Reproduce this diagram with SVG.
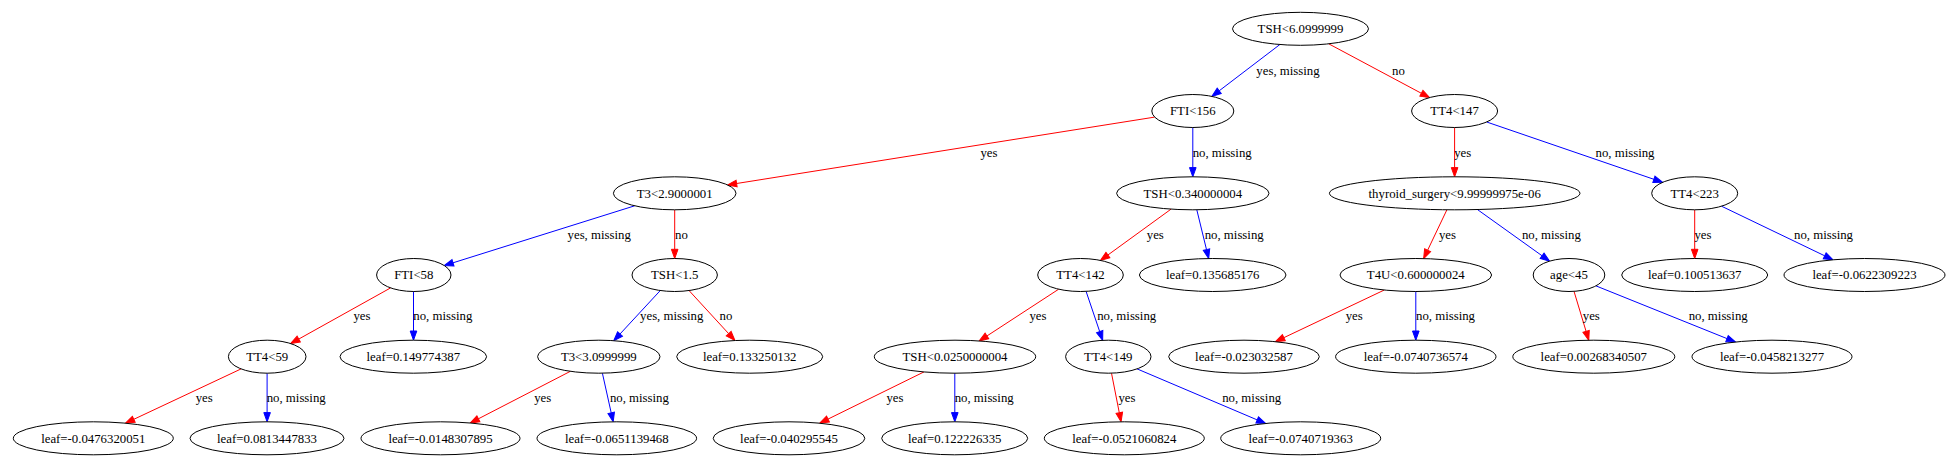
<svg xmlns="http://www.w3.org/2000/svg" width="1957" height="469" viewBox="0 0 1957 469">
<style>
text{font-family:"Liberation Serif","Times New Roman",serif;font-size:12.8px;fill:#000;text-anchor:middle}
.node ellipse{fill:#fff;stroke:#000;stroke-width:1}
.r{stroke:#ff0000;fill:none;stroke-width:1;marker-end:url(#ar)}
.b{stroke:#0000ff;fill:none;stroke-width:1;marker-end:url(#ab)}
</style>
<defs>
<marker id="ar" markerUnits="userSpaceOnUse" markerWidth="10" markerHeight="8" viewBox="0 -4 10 8" refX="0" refY="0" orient="auto" overflow="visible"><path d="M0,-3.3L9.2,0L0,3.3z" fill="#ff0000" stroke="#ff0000" stroke-width="1"/></marker>
<marker id="ab" markerUnits="userSpaceOnUse" markerWidth="10" markerHeight="8" viewBox="0 -4 10 8" refX="0" refY="0" orient="auto" overflow="visible"><path d="M0,-3.3L9.2,0L0,3.3z" fill="#0000ff" stroke="#0000ff" stroke-width="1"/></marker>
</defs>
<rect width="1957" height="469" fill="#fff"/>
<g id="edges">
<path class="b" d="M1279.9,44.5L1219.2,90.8"/><text x="1288" y="75">yes, missing</text>
<path class="r" d="M1328.7,43.8L1421.4,93.3"/><text x="1398.5" y="75">no</text>
<path class="r" d="M1154.7,117.1L736.6,183.5"/><text x="989" y="156.5">yes</text>
<path class="b" d="M1192.8,127.5L1192.8,167.6"/><text x="1222.2" y="156.5">no, missing</text>
<path class="r" d="M1454.6,127.5L1454.6,167.6"/><text x="1462.7" y="156.5">yes</text>
<path class="b" d="M1486.7,122L1653.9,179.3"/><text x="1625" y="156.5">no, missing</text>
<path class="b" d="M634.7,205.8L453,262.8"/><text x="599.2" y="238.5">yes, missing</text>
<path class="r" d="M674.7,209.8L674.7,249.3"/><text x="681.4" y="238.5">no</text>
<path class="r" d="M1171.1,209.1L1107.9,255"/><text x="1155.3" y="238.5">yes</text>
<path class="b" d="M1196.8,209.8L1206.5,249.6"/><text x="1234.2" y="238.5">no, missing</text>
<path class="r" d="M1446.9,209.8L1427.6,250.3"/><text x="1447.5" y="238.5">yes</text>
<path class="b" d="M1477.4,209.5L1542.1,255.8"/><text x="1551.4" y="238.5">no, missing</text>
<path class="r" d="M1694.7,209.8L1694.7,249.3"/><text x="1703" y="238.5">yes</text>
<path class="b" d="M1721.5,206.2L1824.7,255.8"/><text x="1823.5" y="238.5">no, missing</text>
<path class="r" d="M390.6,287.9L298.7,339.1"/><text x="362" y="320.3">yes</text>
<path class="b" d="M413.5,291.5L413.5,331"/><text x="442.8" y="320.3">no, missing</text>
<path class="b" d="M660.3,290.5L620,334"/><text x="671.7" y="320.3">yes, missing</text>
<path class="r" d="M689,290.5L728.7,333.7"/><text x="725.9" y="320.3">no</text>
<path class="r" d="M1058.7,289.2L986.9,336"/><text x="1038" y="320.3">yes</text>
<path class="b" d="M1086.1,291.4L1099.7,331.6"/><text x="1126.7" y="320.3">no, missing</text>
<path class="r" d="M1384.3,290L1283.8,337.7"/><text x="1354.2" y="320.3">yes</text>
<path class="b" d="M1415.8,291.5L1415.8,331"/><text x="1445.5" y="320.3">no, missing</text>
<path class="r" d="M1574,291.3L1586.1,331.4"/><text x="1591.3" y="320.3">yes</text>
<path class="b" d="M1596,285.9L1727,338.6"/><text x="1718.2" y="320.3">no, missing</text>
<path class="r" d="M241.1,368.9L133.8,419.3"/><text x="204.2" y="402">yes</text>
<path class="b" d="M267.1,373.2L267.1,412.6"/><text x="296.2" y="402">no, missing</text>
<path class="r" d="M570.4,371.3L478.4,418.8"/><text x="542.7" y="402">yes</text>
<path class="b" d="M602.4,373.2L611.2,412.8"/><text x="639.4" y="402">no, missing</text>
<path class="r" d="M924,371.9L828,419.1"/><text x="895" y="402">yes</text>
<path class="b" d="M954.8,373.2L954.8,412.6"/><text x="984.2" y="402">no, missing</text>
<path class="r" d="M1111.5,373.2L1119.3,412.8"/><text x="1127" y="402">yes</text>
<path class="b" d="M1137.1,368.9L1257.2,419.9"/><text x="1251.7" y="402">no, missing</text>
</g>
<g id="n0" class="node"><ellipse cx="1300.5" cy="28.8" rx="68" ry="16.5"/><text x="1300.5" y="33.1">TSH&lt;6.0999999</text></g>
<g id="n1" class="node"><ellipse cx="1192.8" cy="111" rx="41" ry="16.5"/><text x="1192.8" y="115.3">FTI&lt;156</text></g>
<g id="n2" class="node"><ellipse cx="1454.6" cy="111" rx="43" ry="16.5"/><text x="1454.6" y="115.3">TT4&lt;147</text></g>
<g id="n3" class="node"><ellipse cx="674.7" cy="193.3" rx="61.3" ry="16.5"/><text x="674.7" y="197.6">T3&lt;2.9000001</text></g>
<g id="n4" class="node"><ellipse cx="1192.8" cy="193.3" rx="76.2" ry="16.5"/><text x="1192.8" y="197.6">TSH&lt;0.340000004</text></g>
<g id="n5" class="node"><ellipse cx="1454.7" cy="193.3" rx="125.3" ry="16.5"/><text x="1454.7" y="197.6">thyroid_surgery&lt;9.99999975e-06</text></g>
<g id="n6" class="node"><ellipse cx="1694.7" cy="193.3" rx="43" ry="16.5"/><text x="1694.7" y="197.6">TT4&lt;223</text></g>
<g id="n7" class="node"><ellipse cx="413.8" cy="275" rx="37.2" ry="16.5"/><text x="413.8" y="279.3">FTI&lt;58</text></g>
<g id="n8" class="node"><ellipse cx="674.7" cy="275" rx="42.7" ry="16.5"/><text x="674.7" y="279.3">TSH&lt;1.5</text></g>
<g id="n9" class="node"><ellipse cx="1080.5" cy="275" rx="42.8" ry="16.5"/><text x="1080.5" y="279.3">TT4&lt;142</text></g>
<g id="n10" class="node"><ellipse cx="1212.7" cy="275" rx="73.3" ry="16.5"/><text x="1212.7" y="279.3">leaf=0.135685176</text></g>
<g id="n11" class="node"><ellipse cx="1415.8" cy="275" rx="75.8" ry="16.5"/><text x="1415.8" y="279.3">T4U&lt;0.600000024</text></g>
<g id="n12" class="node"><ellipse cx="1569" cy="275" rx="35.8" ry="16.5"/><text x="1569" y="279.3">age&lt;45</text></g>
<g id="n13" class="node"><ellipse cx="1694.7" cy="275" rx="73" ry="16.5"/><text x="1694.7" y="279.3">leaf=0.100513637</text></g>
<g id="n14" class="node"><ellipse cx="1864.5" cy="275" rx="80.5" ry="16.5"/><text x="1864.5" y="279.3">leaf=-0.0622309223</text></g>
<g id="n15" class="node"><ellipse cx="267.2" cy="356.7" rx="38.8" ry="16.5"/><text x="267.2" y="361">TT4&lt;59</text></g>
<g id="n16" class="node"><ellipse cx="413.3" cy="356.7" rx="73.3" ry="16.5"/><text x="413.3" y="361">leaf=0.149774387</text></g>
<g id="n17" class="node"><ellipse cx="598.8" cy="356.7" rx="61.2" ry="16.5"/><text x="598.8" y="361">T3&lt;3.0999999</text></g>
<g id="n18" class="node"><ellipse cx="749.7" cy="356.7" rx="73" ry="16.5"/><text x="749.7" y="361">leaf=0.133250132</text></g>
<g id="n19" class="node"><ellipse cx="955" cy="356.7" rx="80.7" ry="16.5"/><text x="955" y="361">TSH&lt;0.0250000004</text></g>
<g id="n20" class="node"><ellipse cx="1108.3" cy="356.7" rx="42.7" ry="16.5"/><text x="1108.3" y="361">TT4&lt;149</text></g>
<g id="n21" class="node"><ellipse cx="1244" cy="356.7" rx="75.3" ry="16.5"/><text x="1244" y="361">leaf=-0.023032587</text></g>
<g id="n22" class="node"><ellipse cx="1415.8" cy="356.7" rx="80.2" ry="16.5"/><text x="1415.8" y="361">leaf=-0.0740736574</text></g>
<g id="n23" class="node"><ellipse cx="1593.8" cy="356.7" rx="81" ry="16.5"/><text x="1593.8" y="361">leaf=0.00268340507</text></g>
<g id="n24" class="node"><ellipse cx="1772" cy="356.7" rx="80" ry="16.5"/><text x="1772" y="361">leaf=-0.0458213277</text></g>
<g id="n25" class="node"><ellipse cx="93.3" cy="438.3" rx="80" ry="16.5"/><text x="93.3" y="442.6">leaf=-0.0476320051</text></g>
<g id="n26" class="node"><ellipse cx="267" cy="438.3" rx="77" ry="16.5"/><text x="267" y="442.6">leaf=0.0813447833</text></g>
<g id="n27" class="node"><ellipse cx="440.5" cy="438.3" rx="79.5" ry="16.5"/><text x="440.5" y="442.6">leaf=-0.0148307895</text></g>
<g id="n28" class="node"><ellipse cx="616.8" cy="438.3" rx="79.8" ry="16.5"/><text x="616.8" y="442.6">leaf=-0.0651139468</text></g>
<g id="n29" class="node"><ellipse cx="789" cy="438.3" rx="75.8" ry="16.5"/><text x="789" y="442.6">leaf=-0.040295545</text></g>
<g id="n30" class="node"><ellipse cx="954.7" cy="438.3" rx="73" ry="16.5"/><text x="954.7" y="442.6">leaf=0.122226335</text></g>
<g id="n31" class="node"><ellipse cx="1124.3" cy="438.3" rx="80" ry="16.5"/><text x="1124.3" y="442.6">leaf=-0.0521060824</text></g>
<g id="n32" class="node"><ellipse cx="1300.7" cy="438.3" rx="80" ry="16.5"/><text x="1300.7" y="442.6">leaf=-0.0740719363</text></g>
</svg>
